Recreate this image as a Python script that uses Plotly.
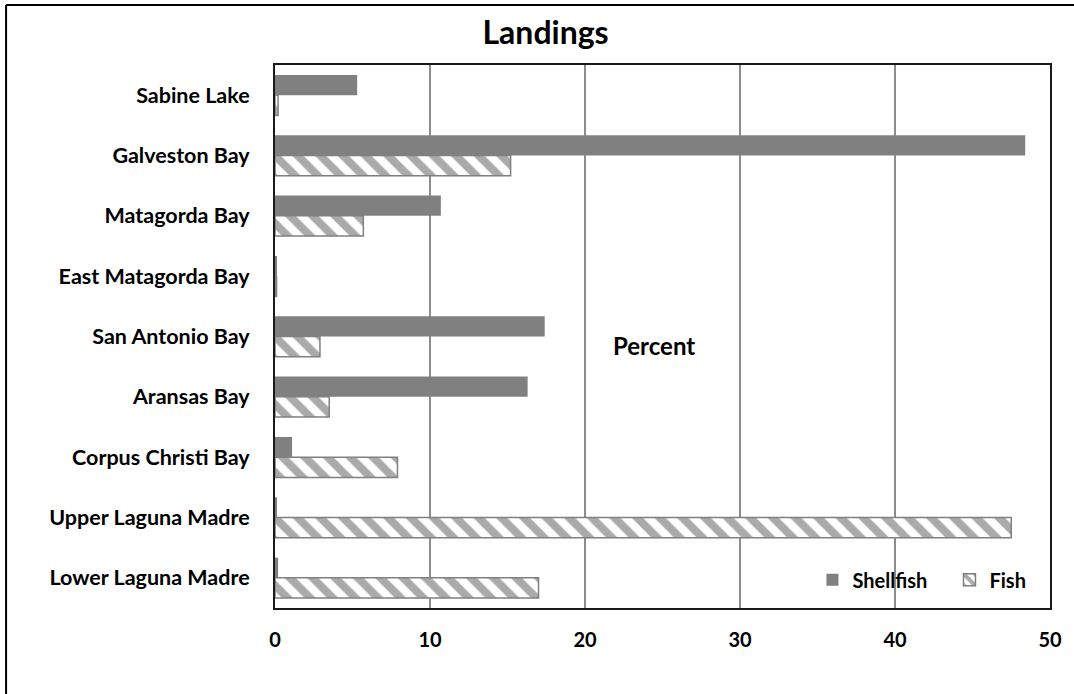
import plotly.graph_objects as go

# Bay systems, listed top to bottom
categories = [
    "Sabine Lake",
    "Galveston Bay",
    "Matagorda Bay",
    "East Matagorda Bay",
    "San Antonio Bay",
    "Aransas Bay",
    "Corpus Christi Bay",
    "Upper Laguna Madre",
    "Lower Laguna Madre",
]

# Share of landings (percent)
shellfish = [5.3, 48.4, 10.7, 0.1, 17.4, 16.3, 1.1, 0.1, 0.2]
fish = [0.2, 15.2, 5.7, 0.1, 2.9, 3.5, 7.9, 47.5, 17.0]

x_ticks = [0, 10, 20, 30, 40, 50]

FONT = "Lato, Carlito, Calibri, sans-serif"
GRAY = "#808080"


def bold(size):
    return dict(size=size, family=FONT, color="black", weight="bold")


fig = go.Figure()

fig.add_trace(go.Bar(
    name="Shellfish",
    y=categories,
    x=shellfish,
    orientation="h",
    marker=dict(color=GRAY, line=dict(width=0)),
))

fig.add_trace(go.Bar(
    name="Fish",
    y=categories,
    x=fish,
    orientation="h",
    marker=dict(
        color="white",
        line=dict(color=GRAY, width=1.5),
        pattern=dict(shape="\\", fgcolor="#555555", bgcolor="white",
                     size=16, solidity=0.5),
    ),
))

fig.update_layout(
    width=1074,
    height=694,
    barmode="group",
    bargap=0.33,
    bargroupgap=0,
    plot_bgcolor="white",
    paper_bgcolor="white",
    margin=dict(l=275, r=24, t=65, b=86, autoexpand=False),
    font=dict(family=FONT, color="black"),
    title=dict(
        text="Landings",
        font=bold(32),
        xref="container", yref="container",
        x=0.508, xanchor="center",
        y=1 - 33 / 694, yanchor="middle",
    ),
    showlegend=True,
    legend=dict(
        orientation="h",
        x=0.6935, xanchor="left",
        y=0.052, yanchor="middle",
        bgcolor="rgba(0,0,0,0)",
        font=bold(20),
        traceorder="normal",
        itemwidth=30,
        entrywidth=92,
    ),
    xaxis=dict(
        range=[0, 50],
        tickvals=x_ticks,
        ticktext=[str(v) for v in x_ticks],
        tickfont=bold(20),
        ticklabelstandoff=13,
        showgrid=True,
        gridcolor="#8c8c8c",
        gridwidth=1.5,
        zeroline=False,
        showline=True,
        linecolor="#1a1a1a",
        linewidth=2,
        mirror=True,
        ticks="",
        fixedrange=True,
    ),
    yaxis=dict(
        autorange="reversed",
        tickvals=categories,
        ticktext=categories,
        tickfont=bold(21.5),
        ticklabelstandoff=19,
        showgrid=False,
        showline=True,
        linecolor="#1a1a1a",
        linewidth=2,
        mirror=True,
        ticks="",
    ),
)

# Axis title placed inside the plot area
fig.add_annotation(
    text="Percent",
    xref="paper", yref="paper",
    x=0.489, y=0.484,
    xanchor="center", yanchor="middle",
    showarrow=False,
    font=bold(24),
)

# Outer frame (left and top edges)
fig.add_shape(type="line", xref="paper", yref="paper",
              x0=-0.347, x1=-0.347, y0=-0.3, y1=1.1105,
              line=dict(color="black", width=2))
fig.add_shape(type="line", xref="paper", yref="paper",
              x0=-0.347, x1=1.2, y0=1.1105, y1=1.1105,
              line=dict(color="black", width=2))

fig.write_html("out.html")
